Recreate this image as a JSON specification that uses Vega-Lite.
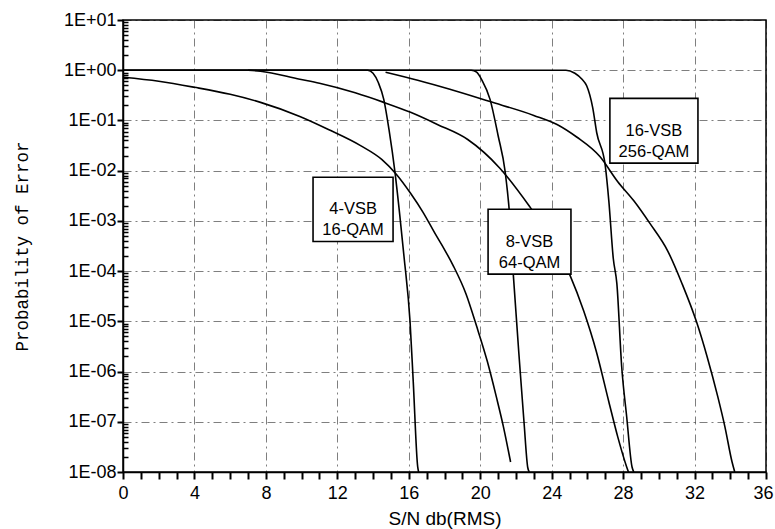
{
  "$schema": "https://vega.github.io/schema/vega-lite/v6.json",
  "width": 643,
  "height": 452,
  "autosize": {"type": "none"},
  "padding": {"left": 123, "top": 20, "right": 9, "bottom": 57},
  "background": "white",
  "config": {
    "view": {"stroke": "black", "strokeWidth": 1.5},
    "axis": {
      "labelFont": "Liberation Sans",
      "labelFontSize": 18,
      "labelColor": "black",
      "domainColor": "black",
      "domainWidth": 1.5,
      "titleColor": "black",
      "titleFontWeight": "normal",
      "labelOverlap": false,
      "labelFlush": false,
      "labelBound": false
    }
  },
  "datasets": {
    "curves": [
      {"s": "4c", "x": 0, "p": 1}, {"s": "4c", "x": 13.7, "p": 1}, {"s": "4c", "x": 14.0, "p": 0.871}, {"s": "4c", "x": 14.3, "p": 0.562}, {"s": "4c", "x": 14.6, "p": 0.263}, {"s": "4c", "x": 14.9, "p": 0.0631}, {"s": "4c", "x": 15.23, "p": 0.00912}, {"s": "4c", "x": 15.5, "p": 0.00126}, {"s": "4c", "x": 15.73, "p": 0.0002}, {"s": "4c", "x": 16.07, "p": 1e-5}, {"s": "4c", "x": 16.25, "p": 6.31e-7}, {"s": "4c", "x": 16.5, "p": 1.26e-8}, {"s": "4c", "x": 16.55, "p": 1e-8},
      {"s": "8c", "x": 0, "p": 1}, {"s": "8c", "x": 19.5, "p": 1}, {"s": "8c", "x": 19.8, "p": 0.912}, {"s": "8c", "x": 20.1, "p": 0.631}, {"s": "8c", "x": 20.55, "p": 0.263}, {"s": "8c", "x": 21.0, "p": 0.0501}, {"s": "8c", "x": 21.4, "p": 0.00933}, {"s": "8c", "x": 21.65, "p": 0.00126}, {"s": "8c", "x": 21.85, "p": 8.71e-5}, {"s": "8c", "x": 22.23, "p": 1.1e-6}, {"s": "8c", "x": 22.45, "p": 1e-7}, {"s": "8c", "x": 22.66, "p": 1.23e-8}, {"s": "8c", "x": 22.75, "p": 1e-8},
      {"s": "16c", "x": 0, "p": 1}, {"s": "16c", "x": 24.8, "p": 1}, {"s": "16c", "x": 25.3, "p": 0.871}, {"s": "16c", "x": 25.7, "p": 0.661}, {"s": "16c", "x": 25.96, "p": 0.49}, {"s": "16c", "x": 26.3, "p": 0.178}, {"s": "16c", "x": 26.52, "p": 0.0575}, {"s": "16c", "x": 27.0, "p": 0.0126}, {"s": "16c", "x": 27.2, "p": 0.00251}, {"s": "16c", "x": 27.45, "p": 0.000178}, {"s": "16c", "x": 27.65, "p": 5.62e-5}, {"s": "16c", "x": 27.92, "p": 1.26e-6}, {"s": "16c", "x": 28.2, "p": 1.26e-7}, {"s": "16c", "x": 28.5, "p": 1.26e-8}, {"s": "16c", "x": 28.6, "p": 1e-8},
      {"s": "4u", "x": 0, "p": 0.724}, {"s": "4u", "x": 2, "p": 0.603}, {"s": "4u", "x": 4, "p": 0.457}, {"s": "4u", "x": 6, "p": 0.331}, {"s": "4u", "x": 7.7, "p": 0.229}, {"s": "4u", "x": 9.9, "p": 0.12}, {"s": "4u", "x": 11.5, "p": 0.0661}, {"s": "4u", "x": 13.3, "p": 0.0316}, {"s": "4u", "x": 14.5, "p": 0.0166}, {"s": "4u", "x": 15.3, "p": 0.00851}, {"s": "4u", "x": 16.1, "p": 0.00355}, {"s": "4u", "x": 16.8, "p": 0.00148}, {"s": "4u", "x": 17.5, "p": 0.000537}, {"s": "4u", "x": 18.0, "p": 0.000269}, {"s": "4u", "x": 18.5, "p": 0.000126}, {"s": "4u", "x": 19.2, "p": 3.55e-5}, {"s": "4u", "x": 19.8, "p": 7.94e-6}, {"s": "4u", "x": 20.4, "p": 1.58e-6}, {"s": "4u", "x": 20.9, "p": 3.16e-7}, {"s": "4u", "x": 21.3, "p": 7.94e-8}, {"s": "4u", "x": 21.7, "p": 1.58e-8},
      {"s": "8u", "x": 7.0, "p": 1}, {"s": "8u", "x": 7.7, "p": 0.955}, {"s": "8u", "x": 9.9, "p": 0.661}, {"s": "8u", "x": 11.0, "p": 0.55}, {"s": "8u", "x": 13.0, "p": 0.355}, {"s": "8u", "x": 14.6, "p": 0.229}, {"s": "8u", "x": 16.1, "p": 0.145}, {"s": "8u", "x": 17.6, "p": 0.0832}, {"s": "8u", "x": 19.3, "p": 0.0417}, {"s": "8u", "x": 21.1, "p": 0.0112}, {"s": "8u", "x": 22.8, "p": 0.00186}, {"s": "8u", "x": 24.0, "p": 0.000447}, {"s": "8u", "x": 25.0, "p": 8.71e-5}, {"s": "8u", "x": 25.8, "p": 1.58e-5}, {"s": "8u", "x": 26.5, "p": 2.51e-6}, {"s": "8u", "x": 27.2, "p": 2.51e-7}, {"s": "8u", "x": 27.7, "p": 5.01e-8}, {"s": "8u", "x": 28.2, "p": 1.26e-8}, {"s": "8u", "x": 28.3, "p": 1e-8},
      {"s": "16u", "x": 14.7, "p": 0.912}, {"s": "16u", "x": 16.5, "p": 0.631}, {"s": "16u", "x": 18.3, "p": 0.417}, {"s": "16u", "x": 20.5, "p": 0.24}, {"s": "16u", "x": 23.0, "p": 0.126}, {"s": "16u", "x": 24.3, "p": 0.0832}, {"s": "16u", "x": 25.4, "p": 0.0468}, {"s": "16u", "x": 26.7, "p": 0.0191}, {"s": "16u", "x": 27.7, "p": 0.00603}, {"s": "16u", "x": 28.6, "p": 0.00251}, {"s": "16u", "x": 29.5, "p": 0.000891}, {"s": "16u", "x": 30.5, "p": 0.000251}, {"s": "16u", "x": 31.3, "p": 5.62e-5}, {"s": "16u", "x": 32.1, "p": 1e-5}, {"s": "16u", "x": 32.7, "p": 2e-6}, {"s": "16u", "x": 33.3, "p": 3.16e-7}, {"s": "16u", "x": 33.7, "p": 7.94e-8}, {"s": "16u", "x": 34.1, "p": 1.58e-8}, {"s": "16u", "x": 34.25, "p": 1e-8}
    ],
    "boxes": [
      {"label": "4-VSB\n16-QAM", "x": 10.64, "xe": 15.12, "p": 0.00741, "pe": 0.000389},
      {"label": "8-VSB\n64-QAM", "x": 20.44, "xe": 25.08, "p": 0.0017, "pe": 8.71e-5},
      {"label": "16-VSB\n256-QAM", "x": 27.26, "xe": 32.19, "p": 0.275, "pe": 0.01413}
    ]
  },
  "layer": [
    {
      "data": {"name": "curves"},
      "mark": {"type": "line", "interpolate": "monotone", "color": "black", "strokeWidth": 1.6, "clip": true},
      "encoding": {
        "x": {
          "field": "x", "type": "quantitative",
          "scale": {"domain": [0, 36], "nice": false, "zero": false},
          "axis": {
            "orient": "bottom",
            "values": [0, 4, 8, 12, 16, 20, 24, 28, 32, 36],
            "labelOffset": {"condition": {"test": "datum.value == 36", "value": -3}, "value": 0},
            "ticks": true,
            "tickSize": 7,
            "tickColor": "black",
            "tickWidth": 2,
            "tickOpacity": 1,
            "labelPadding": 5,
            "grid": true,
            "gridColor": "black",
            "gridDash": [8, 4, 2, 4],
            "gridWidth": 1,
            "gridOpacity": 0.5,
            "title": "S/N db(RMS)",
            "titleFont": "Liberation Sans",
            "titleFontSize": 19,
            "titleBaseline": "middle",
            "titleY": 46
          }
        },
        "y": {
          "field": "p", "type": "quantitative",
          "scale": {"type": "log", "domain": [1e-8, 10], "nice": false},
          "axis": {
            "orient": "left",
            "values": [1e-8, 1e-7, 1e-6, 1e-5, 1e-4, 0.001, 0.01, 0.1, 1, 10],
            "labelExpr": "'1E' + (datum.value >= 1 ? '+' : '-') + '0' + abs(round(log(datum.value)/LN10))",
            "ticks": true,
            "tickSize": 6,
            "tickColor": "black",
            "tickWidth": 2,
            "tickOpacity": 1,
            "labelPadding": 1,
            "grid": true,
            "gridColor": "black",
            "gridDash": [8, 4, 2, 4],
            "gridWidth": 1,
            "gridOpacity": 0.5,
            "title": "Probability of Error",
            "titleFont": "Liberation Mono",
            "titleFontSize": 17.5,
            "titleBaseline": "middle",
            "titleX": -101
          }
        },
        "detail": {"field": "s"}
      }
    },
    {
      "data": {"name": "curves"},
      "mark": {"type": "point", "opacity": 0},
      "encoding": {
        "x": {
          "field": "x", "type": "quantitative",
          "axis": {
            "orient": "bottom",
            "values": [1,2,3,5,6,7,9,10,11,13,14,15,17,18,19,21,22,23,25,26,27,29,30,31,33,34,35],
            "labels": false, "grid": false, "domain": false, "ticks": true, "tickSize": 7, "tickColor": "black", "tickWidth": 2, "tickOpacity": 1, "title": null
          }
        },
        "y": {
          "field": "p", "type": "quantitative",
          "axis": {
            "orient": "left",
            "values": [2e-8,3e-8,4e-8,5e-8,6e-8,7e-8,8e-8,9e-8,2e-7,3e-7,4e-7,5e-7,6e-7,7e-7,8e-7,9e-7,2e-6,3e-6,4e-6,5e-6,6e-6,7e-6,8e-6,9e-6,2e-5,3e-5,4e-5,5e-5,6e-5,7e-5,8e-5,9e-5,2e-4,3e-4,4e-4,5e-4,6e-4,7e-4,8e-4,9e-4,0.002,0.003,0.004,0.005,0.006,0.007,0.008,0.009,0.02,0.03,0.04,0.05,0.06,0.07,0.08,0.09,0.2,0.3,0.4,0.5,0.6,0.7,0.8,0.9,2,3,4,5,6,7,8,9],
            "labels": false, "grid": false, "domain": false, "ticks": true, "tickSize": -5, "tickColor": "black", "tickWidth": 1.5, "tickOpacity": 1, "title": null
          }
        }
      }
    },
    {
      "data": {"name": "boxes"},
      "mark": {"type": "rect", "fill": "white", "stroke": "black", "strokeWidth": 1.6},
      "encoding": {
        "x": {"field": "x", "type": "quantitative", "axis": null},
        "x2": {"field": "xe"},
        "y": {"field": "p", "type": "quantitative", "axis": null},
        "y2": {"field": "pe"}
      }
    },
    {
      "data": {"name": "boxes"},
      "transform": [
        {"calculate": "(datum.x + datum.xe) / 2", "as": "xm"},
        {"calculate": "sqrt(datum.p * datum.pe)", "as": "pm"}
      ],
      "mark": {"type": "text", "font": "Liberation Sans", "fontSize": 16.5, "lineBreak": "\n", "lineHeight": 21, "baseline": "middle", "align": "center", "color": "black"},
      "encoding": {
        "x": {"field": "xm", "type": "quantitative", "axis": null},
        "y": {"field": "pm", "type": "quantitative", "axis": null},
        "text": {"field": "label"}
      }
    }
  ],
  "resolve": {"axis": {"x": "independent", "y": "independent"}}
}
